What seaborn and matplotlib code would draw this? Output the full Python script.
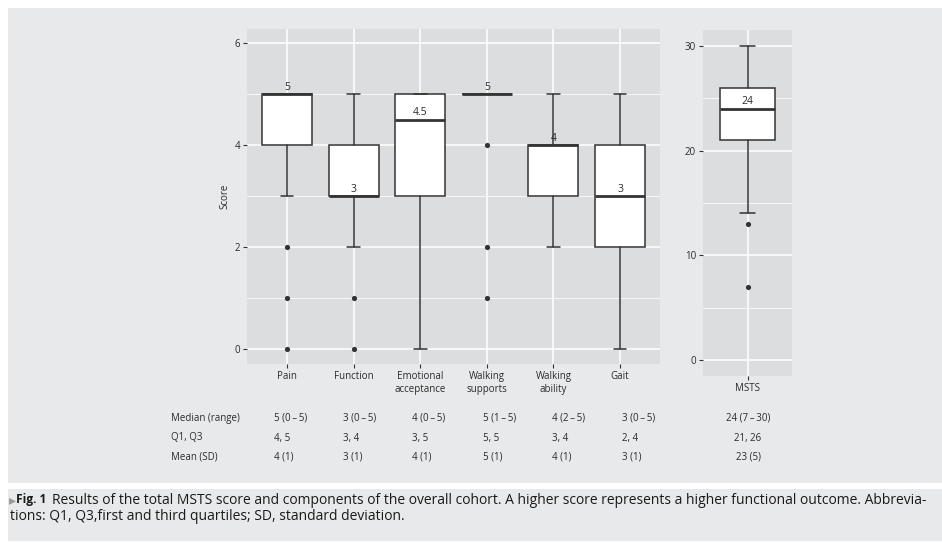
import numpy as np
import pandas as pd
import matplotlib
matplotlib.use("Agg")
import matplotlib.pyplot as plt
import seaborn as sns
from matplotlib.patches import Rectangle
from matplotlib.ticker import FixedLocator

# ---------------- data ----------------
categories = ["Pain", "Function", "Emotional\nacceptance", "Walking\nsupports", "Walking\nability", "Gait"]
q1 = [4, 3, 3, 5, 3, 2]
medians = [5, 3, 4.5, 5, 4, 3]
q3 = [5, 4, 5, 5, 4, 4]
whisker_low = [3, 2, 0, 5, 2, 0]
whisker_high = [5, 5, 5, 5, 5, 5]
outliers = [[0, 1, 2], [0, 1], [], [1, 2, 4], [], []]
median_labels = ["5", "3", "4.5", "5", "4", "3"]
score_ticks = [0, 2, 4, 6]
score_minor = [1, 3, 5]

msts_category = ["MSTS"]
msts_q1 = [21]
msts_median = [24]
msts_q3 = [26]
msts_low = [14]
msts_high = [30]
msts_outliers = [[7, 13]]
msts_labels = ["24"]
msts_ticks = [0, 10, 20, 30]
msts_minor = [5, 15, 25]

row_labels = ["Median (range)", "Q1, Q3", "Mean (SD)"]
median_range = ["5 (0\u2009\u2013\u20095)", "3 (0\u2009\u2013\u20095)", "4 (0\u2009\u2013\u20095)",
                "5 (1\u2009\u2013\u20095)", "4 (2\u2009\u2013\u20095)", "3 (0\u2009\u2013\u20095)"]
quartiles = ["4, 5", "3, 4", "3, 5", "5, 5", "3, 4", "2, 4"]
mean_sd = ["4 (1)", "3 (1)", "4 (1)", "5 (1)", "4 (1)", "3 (1)"]
msts_table = ["24 (7\u2009\u2013\u200930)", "21, 26", "23 (5)"]

caption_head = "Fig. 1"
caption_line1 = ("Results of the total MSTS score and components of the overall cohort. "
                 "A higher score represents a higher functional outcome. Abbrevia-")
caption_line2 = "tions: Q1, Q3,first and third quartiles; SD, standard deviation."

# ---------------- style ----------------
sns.set_theme(style="white")
plt.rcParams["font.family"] = ["Open Sans", "DejaVu Sans"]

W, H = 942, 543
OUTER = "#e8e9ea"
PANEL = "#dcdddf"
DARK = "#333333"
TXT = "#2b2b2b"

fig = plt.figure(figsize=(W / 100, H / 100), dpi=100, facecolor="white")


def fx(x):
    return x / W


def fy(y):
    return 1 - y / H


fig.patches.append(Rectangle((fx(8), fy(483)), 1 - fx(8), (483 - 8) / H,
                             transform=fig.transFigure, facecolor=OUTER, edgecolor="none", zorder=-10))
fig.patches.append(Rectangle((fx(8), fy(541)), 1 - fx(8), (541 - 489) / H,
                             transform=fig.transFigure, facecolor=OUTER, edgecolor="none", zorder=-10))


def style_axes(ax, ticks, minor):
    ax.set_facecolor(PANEL)
    for s in ax.spines.values():
        s.set_visible(False)
    ax.set_yticks(ticks)
    ax.yaxis.set_minor_locator(FixedLocator(minor))
    ax.grid(True, which="major", color="white", linewidth=1.1)
    ax.grid(True, which="minor", axis="y", color="white", linewidth=0.55)
    ax.set_axisbelow(True)
    ax.tick_params(axis="both", which="major", length=3, width=0.8, color=DARK,
                   labelsize=7, labelcolor=TXT, pad=2, left=True, bottom=True)
    ax.tick_params(axis="y", which="minor", length=0)


def draw_boxes(ax, lo, a, m, b, hi, outl, labels, cats):
    stats = [dict(whislo=lo[i], q1=a[i], med=m[i], q3=b[i], whishi=hi[i], fliers=[])
             for i in range(len(cats))]
    pos = list(range(len(cats)))
    ax.bxp(stats, positions=pos, widths=0.75, capwidths=0.19, patch_artist=True,
           showfliers=False, manage_ticks=False,
           boxprops=dict(facecolor="white", edgecolor=DARK, linewidth=1.1),
           medianprops=dict(color=DARK, linewidth=2.0, solid_capstyle="butt"),
           whiskerprops=dict(color=DARK, linewidth=1.1),
           capprops=dict(color=DARK, linewidth=1.1))
    df = pd.DataFrame([(p, v) for p, vals in zip(pos, outl) for v in vals], columns=["pos", "val"])
    if len(df):
        sns.scatterplot(data=df, x="pos", y="val", ax=ax, color=DARK, s=14, linewidth=0, zorder=5)
    for p, v, t in zip(pos, m, labels):
        ax.annotate(t, (p, v), xytext=(0, 5), textcoords="offset points", ha="center", va="center",
                    fontsize=7.5, color=TXT, zorder=6)
    ax.set_xticks(pos)
    ax.set_xticklabels(cats, linespacing=1.25)
    ax.set_xlabel("")
    ax.set_ylabel("")


# left panel
ax1 = fig.add_axes([fx(247), fy(364), (660 - 247) / W, (364 - 29) / H])
style_axes(ax1, score_ticks, score_minor)
draw_boxes(ax1, whisker_low, q1, medians, q3, whisker_high, outliers, median_labels, categories)
ax1.set_xlim(-0.6, 5.6)
ax1.set_ylim(-0.3, 6.28)
ax1.set_ylabel("Score", fontsize=7, color=TXT, labelpad=3)

# right panel
ax2 = fig.add_axes([fx(703), fy(376), (792 - 703) / W, (376 - 30) / H])
style_axes(ax2, msts_ticks, msts_minor)
draw_boxes(ax2, msts_low, msts_q1, msts_median, msts_q3, msts_high, msts_outliers, msts_labels, msts_category)
ax2.set_xlim(-0.6, 0.6)
ax2.set_ylim(-1.5, 31.5)

# table below
row_y = [418, 438, 457]
col_x = [274, 343, 412, 483, 552, 622]
for ry, lab, vals, mv in zip(row_y, row_labels, [median_range, quartiles, mean_sd], msts_table):
    fig.text(fx(171), fy(ry), lab, fontsize=7, color=TXT, ha="left", va="center")
    for cx, v in zip(col_x, vals):
        fig.text(fx(cx), fy(ry), v, fontsize=7, color=TXT, ha="left", va="center")
    fig.text(fx(748), fy(ry), mv, fontsize=7, color=TXT, ha="center", va="center")

# caption
fig.text(fx(9), fy(500), "\u25b8", fontsize=10, color="#9a9a9a", ha="left", va="center",
         family=["DejaVu Sans"])
fig.text(fx(16), fy(500), caption_head, fontsize=8.6, color="#1a1a1a", ha="left", va="center",
         fontweight="bold")
fig.text(fx(52), fy(500), caption_line1, fontsize=10, color="#1a1a1a", ha="left", va="center")
fig.text(fx(10), fy(516), caption_line2, fontsize=10, color="#1a1a1a", ha="left", va="center")

fig.savefig("out.png", dpi=100, facecolor="white")
